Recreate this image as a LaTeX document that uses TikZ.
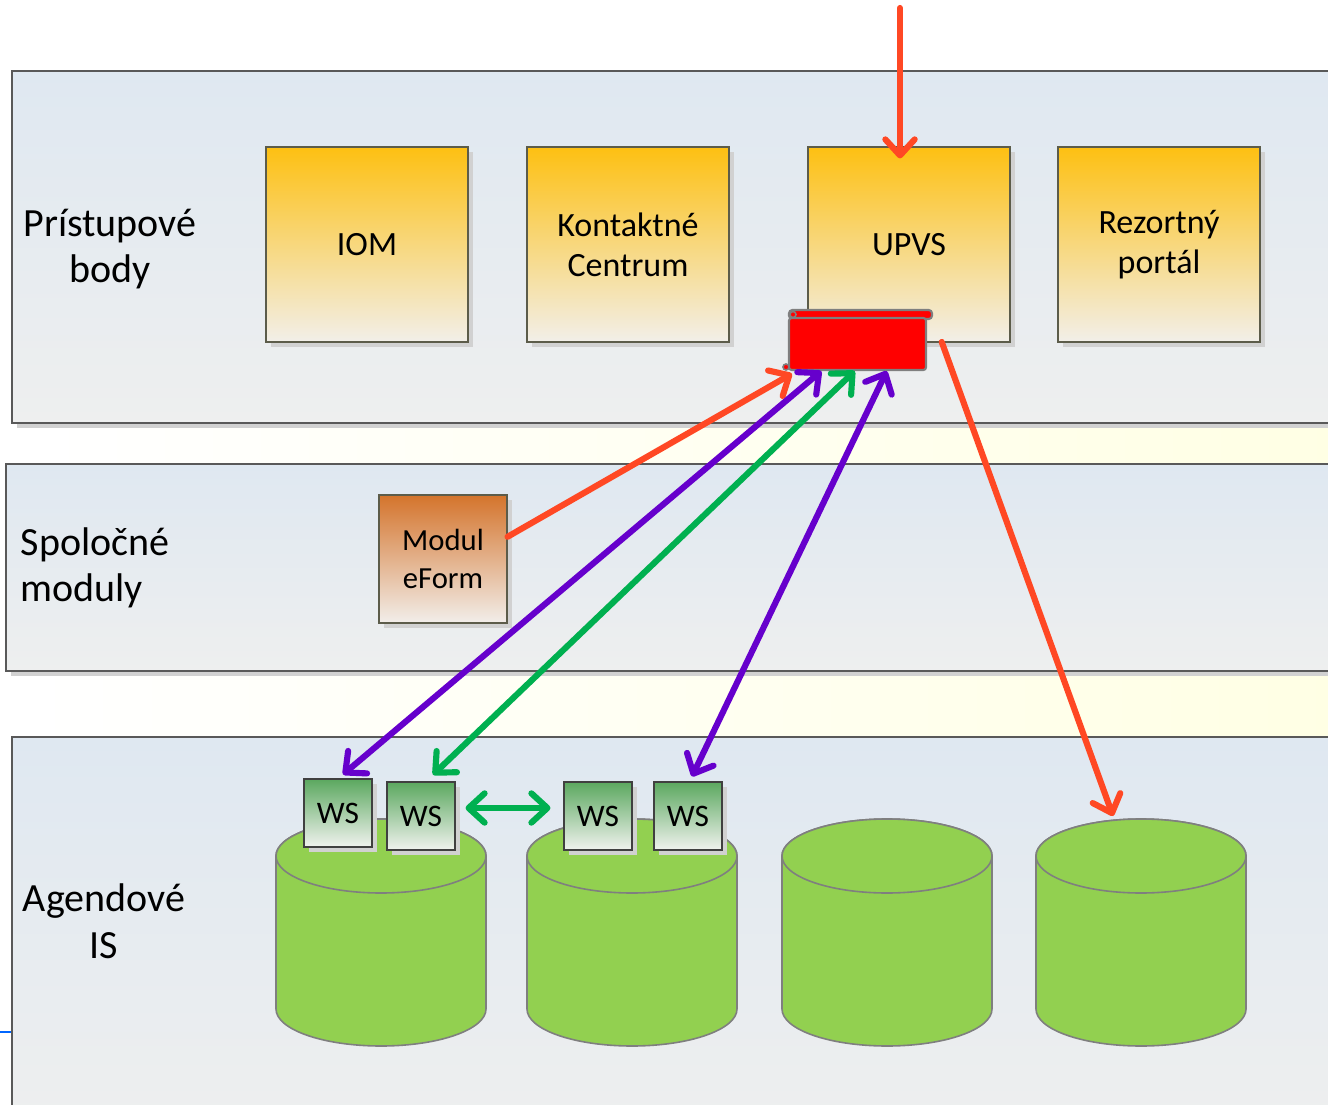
\documentclass[tikz,border=0pt]{standalone}
\usepackage{fontspec}
\setmainfont{Carlito}
\usetikzlibrary{arrows.meta,calc,shadows}
\definecolor{layertop}{HTML}{DFE8F1}
\definecolor{layerbot}{HTML}{EEEFEF}
\definecolor{layerline}{HTML}{595959}
\definecolor{boxtop}{HTML}{FDC012}
\definecolor{boxbot}{HTML}{F2EFE9}
\definecolor{boxline}{HTML}{5C5C4A}
\definecolor{formtop}{HTML}{D4742C}
\definecolor{formbot}{HTML}{F2EEEA}
\definecolor{wstop}{HTML}{5BA85F}
\definecolor{wsbot}{HTML}{F0F2EE}
\definecolor{dbfill}{HTML}{92D050}
\definecolor{dbline}{HTML}{7F7F7F}
\definecolor{bandend}{HTML}{FFFFE4}
\definecolor{flowred}{HTML}{FF4824}
\definecolor{flowviolet}{HTML}{6600CC}
\definecolor{flowgreen}{HTML}{00B050}
\tikzset{
  boxshadow/.style={drop shadow={shadow xshift=3.5pt,shadow yshift=-3.5pt,fill=black!18,opacity=1}},
  layer/.style={draw=layerline,line width=1pt,top color=layertop,bottom color=layerbot,boxshadow},
  band/.style={left color=white,right color=bandend},
  layerlabel/.style={align=center,font=\fontsize{30}{35}\selectfont},
  point/.style={draw=boxline,line width=0.8pt,top color=boxtop,bottom color=boxbot,
    minimum width=151.5pt,minimum height=146.25pt,align=center,boxshadow,
    font=\fontsize{25.5}{30}\selectfont},
  module/.style={draw=boxline,line width=0.8pt,top color=formtop,bottom color=formbot,
    minimum width=96pt,minimum height=96pt,align=center,boxshadow,
    font=\fontsize{23}{28.5}\selectfont},
  wsbox/.style={draw=black!75,line width=0.8pt,top color=wstop,bottom color=wsbot,
    minimum width=51pt,minimum height=51pt,boxshadow,font=\fontsize{23.5}{26}\selectfont},
  db/.style={draw=dbline,line width=1.2pt,fill=dbfill},
  flow/.style={line width=4.6pt,line cap=round,arrows={-Straight Barb[round,length=12pt,width=22pt]}},
  flowboth/.style={line width=4.6pt,line cap=round,
    arrows={Straight Barb[round,length=12pt,width=22pt]-Straight Barb[round,length=12pt,width=22pt]}}
}
\begin{document}
\begin{tikzpicture}[x=0.75pt,y=0.75pt]
\useasboundingbox (0,0) rectangle (1328,-1105);
\clip (0,0) rectangle (1328,-1105);
\fill[white] (0,0) rectangle (1328,-1105);

\fill[band] (45,-427) rectangle (1340,-463);
\fill[band] (30,-676) rectangle (1340,-737);
\draw[layer] (12,-71) rectangle (1345,-423);
\draw[layer] (6,-464) rectangle (1345,-671);
\draw[layer] (12,-737) rectangle (1345,-1130);
\draw[color=blue!60!cyan,line width=0.8pt] (0,-1032) -- (11,-1032);

\node[layerlabel] (access) at (110,-249) {Prístupové\\body};
\node[layerlabel,align=left,anchor=west] (common) at (16,-568) {Spoločné\\moduly};
\node[layerlabel] (agenda) at (104,-921) {Agendové\\IS};

\node[point] (iom) at (367,-244.5) {IOM};
\node[point] (kc) at (628,-244.5) {Kontaktné\\Centrum};
\node[point] (upvs) at (909,-244.5) {UPVS};
\node[point] (rp) at (1159,-244.5) {Rezortný\\portál};

\draw[draw=dbline,line width=1.6pt,fill=red,rounded corners=2.5pt] (789,-310) rectangle (932,-319);
\node[draw=dbline,line width=1.6pt,fill=red,rounded corners=2pt,minimum width=102.75pt,minimum height=39pt] (gate) at (857.5,-344) {};
\draw[draw=dbline,line width=1.2pt,fill=red] (793,-314.5) circle (3);
\draw[draw=dbline,line width=1.2pt,fill=red] (786,-367) circle (3);

\node[module] (eform) at (443,-559) {Modul\\eForm};

\foreach \cx/\n in {381/1,632/2,887/3,1141/4}{
  \draw[db] (\cx-105,-856) -- (\cx-105,-1009) arc (180:360:105 and 37) -- (\cx+105,-856) arc (0:180:105 and 37) -- cycle;
  \draw[db] (\cx,-856) ellipse (105 and 37);
}
\coordinate (db4) at (1113,-816);

\node[wsbox] (ws1) at (338,-813) {WS};
\node[wsbox] (ws2) at (421,-816) {WS};
\node[wsbox] (ws3) at (598,-816) {WS};
\node[wsbox] (ws4) at (688,-816) {WS};

\coordinate (entry) at (900,-8);
\draw[flow,flowred] (entry) -- ([xshift=-6.75pt,yshift=-9pt]upvs.north);
\draw[flow,flowred] (eform.19) -- ([xshift=3pt,yshift=-2pt]gate.south west);
\draw[flow,flowred] ([xshift=11pt,yshift=1.5pt]gate.east) -- (db4);
\draw[flowboth,flowviolet] ($(gate.south west)!0.24!(gate.south east)$) -- ([xshift=3.75pt,yshift=3pt]ws1.north);
\draw[flowboth,flowgreen] ($(gate.south west)!0.48!(gate.south east)$) -- ([xshift=9pt,yshift=5pt]ws2.north);
\draw[flowboth,flowviolet] ($(gate.south west)!0.71!(gate.south east)$) -- ([xshift=3pt,yshift=3.75pt]ws4.north);
\draw[flowboth,flowgreen,shorten <=7.5pt,shorten >=9.75pt] ([yshift=6pt]ws2.east) -- ([yshift=6pt]ws3.west);
\end{tikzpicture}
\end{document}
